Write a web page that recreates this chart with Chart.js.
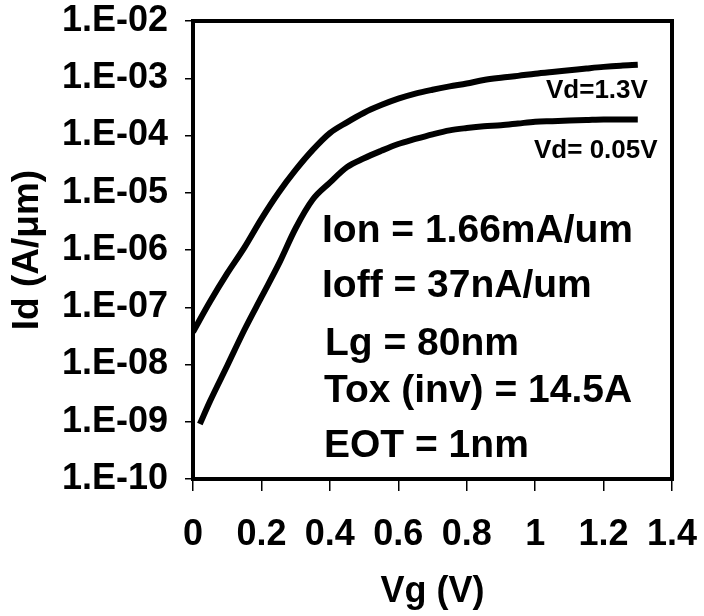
<!DOCTYPE html>
<html lang="en">
<head>
  <meta charset="UTF-8">
  <title>Id-Vg</title>
  <script src="https://cdn.jsdelivr.net/npm/chart.js"></script>
  <style>
    html, body { margin: 0; padding: 0; background: #fff; }
    #wrap { width: 704px; height: 616px; }
  </style>
</head>
<body>
  <div id="wrap"><canvas id="chart" width="704" height="616"></canvas></div>

  <script>
    // data
    const vgHigh = [0, 0.05, 0.1, 0.15, 0.2, 0.25, 0.3, 0.35, 0.4, 0.45, 0.5, 0.55, 0.6, 0.65,
                    0.7, 0.75, 0.8, 0.85, 0.9, 0.95, 1.0, 1.05, 1.1, 1.15, 1.2, 1.25, 1.3];
    const idHigh = [3.7e-8, 1.26e-7, 3.9e-7, 1.1e-6, 3.5e-6, 1.0e-5, 2.5e-5, 5.6e-5, 1.1e-4, 1.7e-4,
                    2.5e-4, 3.4e-4, 4.4e-4, 5.4e-4, 6.3e-4, 7.2e-4, 8.1e-4, 9.3e-4, 1.02e-3, 1.10e-3,
                    1.20e-3, 1.29e-3, 1.38e-3, 1.48e-3, 1.58e-3, 1.66e-3, 1.72e-3];
    const vgLow = [0.02, 0.05, 0.1, 0.15, 0.2, 0.25, 0.3, 0.35, 0.4, 0.45, 0.5, 0.55, 0.6, 0.65,
                   0.7, 0.75, 0.8, 0.85, 0.9, 0.95, 1.0, 1.05, 1.1, 1.15, 1.2, 1.25, 1.3];
    const idLow = [9.1e-10, 2.3e-9, 9.5e-9, 4.0e-8, 1.5e-7, 5.6e-7, 2.4e-6, 7.6e-6, 1.5e-5, 2.8e-5,
                   4.0e-5, 5.4e-5, 7.1e-5, 8.7e-5, 1.05e-4, 1.23e-4, 1.35e-4, 1.45e-4, 1.51e-4, 1.62e-4,
                   1.74e-4, 1.78e-4, 1.82e-4, 1.86e-4, 1.9e-4, 1.9e-4, 1.9e-4];

    const xTickValues = [0, 0.2, 0.4, 0.6, 0.8, 1.0, 1.2, 1.4];
    const xTickLabels = ['0', '0.2', '0.4', '0.6', '0.8', '1', '1.2', '1.4'];
    const yTickValues = [1e-10, 1e-9, 1e-8, 1e-7, 1e-6, 1e-5, 1e-4, 1e-3, 1e-2];
    const yTickLabels = ['1.E-10', '1.E-09', '1.E-08', '1.E-07', '1.E-06', '1.E-05', '1.E-04', '1.E-03', '1.E-02'];

    const seriesNames = ['Vd=1.3V', 'Vd= 0.05V'];
    const noteLines = ['Ion = 1.66mA/um', 'Ioff = 37nA/um', 'Lg = 80nm', 'Tox (inv) = 14.5A', 'EOT = 1nm'];

    const FONT = 'Arial, "Liberation Sans", sans-serif';

    function toPoints(xs, ys) {
      return xs.map((x, i) => ({ x: x, y: ys[i] }));
    }

    // box round the plot area plus the texts inside it
    const extras = {
      id: 'extras',
      afterDraw(chart) {
        const ctx = chart.ctx;
        const a = chart.chartArea;
        ctx.save();
        ctx.strokeStyle = '#000';
        ctx.lineWidth = 4;
        ctx.beginPath();
        ctx.moveTo(a.left - 2, a.top);
        ctx.lineTo(a.right, a.top);
        ctx.lineTo(a.right, a.bottom + 2);
        ctx.stroke();

        ctx.fillStyle = '#000';
        ctx.textAlign = 'left';
        ctx.textBaseline = 'alphabetic';
        ctx.font = 'bold 39px ' + FONT;
        const noteX = [322, 322, 325, 324, 324];
        const noteY = [242, 297, 355, 402, 457];
        noteLines.forEach((t, i) => ctx.fillText(t, noteX[i], noteY[i]));

        ctx.font = 'bold 26px ' + FONT;
        ctx.fillText(seriesNames[0], 546, 98);
        ctx.fillText(seriesNames[1], 534, 158);
        ctx.restore();
      }
    };

    new Chart(document.getElementById('chart'), {
      type: 'line',
      data: {
        datasets: [
          { label: seriesNames[0], data: toPoints(vgHigh, idHigh) },
          { label: seriesNames[1], data: toPoints(vgLow, idLow) }
        ]
      },
      options: {
        responsive: false,
        animation: false,
        layout: { padding: { top: 21, right: 32, left: 0, bottom: 0 } },
        elements: {
          line: { borderColor: '#000', borderWidth: 6, cubicInterpolationMode: 'monotone', borderCapStyle: 'butt' },
          point: { radius: 0 }
        },
        plugins: {
          legend: { display: false },
          tooltip: { enabled: false }
        },
        scales: {
          x: {
            type: 'linear',
            min: 0,
            max: 1.4,
            afterBuildTicks: s => { s.ticks = xTickValues.map(v => ({ value: v })); },
            afterFit: s => { s.height = 137; s.paddingLeft = 0; s.paddingRight = 0; },
            ticks: {
              autoSkip: false,
              maxRotation: 0,
              padding: 22,
              color: '#000',
              font: { family: FONT, size: 36, weight: 'bold' },
              callback: v => xTickLabels[xTickValues.indexOf(v)]
            },
            grid: { drawOnChartArea: false, drawTicks: true, tickLength: 12, color: '#000', lineWidth: 1.5 },
            border: { display: true, color: '#000', width: 4 },
            title: {
              display: true,
              text: 'Vg (V)',
              color: '#000',
              font: { family: FONT, size: 36, weight: 'bold' },
              padding: { top: 0, bottom: 2 }
            }
          },
          y: {
            type: 'logarithmic',
            min: 1e-10,
            max: 1e-2,
            afterBuildTicks: s => { s.ticks = yTickValues.map(v => ({ value: v })); },
            afterFit: s => { s.width = 193; s.paddingTop = 0; s.paddingBottom = 0; },
            ticks: {
              autoSkip: false,
              padding: 17,
              color: '#000',
              font: { family: FONT, size: 36, weight: 'bold' },
              callback: v => yTickLabels[yTickValues.indexOf(v)]
            },
            grid: { drawOnChartArea: false, drawTicks: true, tickLength: 8, color: '#000', lineWidth: 1.5 },
            border: { display: true, color: '#000', width: 4 },
            title: {
              display: true,
              text: 'Id (A/μm)',
              color: '#000',
              font: { family: FONT, size: 37, weight: 'bold' },
              padding: { top: 6, bottom: 0 }
            }
          }
        }
      },
      plugins: [extras]
    });
  </script>
</body>
</html>
